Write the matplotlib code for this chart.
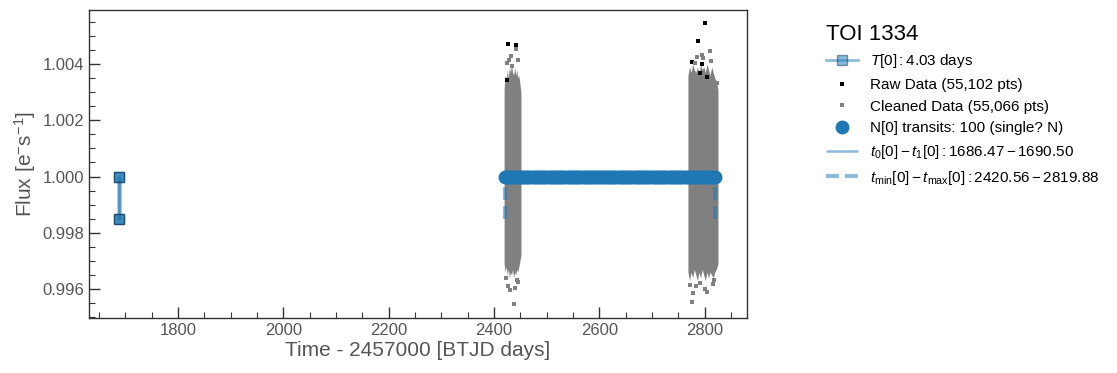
import numpy as np
import matplotlib.pyplot as plt
from matplotlib.ticker import MultipleLocator

plt.rcParams['font.family'] = ['Liberation Sans', 'DejaVu Sans']
plt.rcParams['mathtext.fontset'] = 'custom'
plt.rcParams['mathtext.rm'] = 'Liberation Sans'
plt.rcParams['mathtext.it'] = 'Liberation Sans:italic'
plt.rcParams['mathtext.bf'] = 'Liberation Sans:bold'

# --- data ---
# cleaned light curve: envelope of the dense band for each sector
s1_time = [2419.0, 2421.0, 2423.0, 2425.0, 2427.0, 2429.0, 2431.0, 2433.0, 2435.0,
           2437.0, 2439.0, 2441.0, 2443.0, 2445.0, 2447.0, 2449.0, 2451.0]
s1_upper = [1.0031, 1.0036, 1.0034, 1.0038, 1.0035, 1.0039, 1.0037, 1.0040, 1.0037,
            1.0036, 1.0039, 1.0036, 1.0038, 1.0035, 1.0036, 1.0033, 1.0030]
s1_lower = [0.9969, 0.9966, 0.9968, 0.9965, 0.9967, 0.9964, 0.9966, 0.9965, 0.9967,
            0.9964, 0.9966, 0.9965, 0.9967, 0.9966, 0.9968, 0.9970, 0.9972]

s2_time = [2768.0, 2771.0, 2774.0, 2777.0, 2780.0, 2783.0, 2786.0, 2789.0, 2792.0, 2795.0,
           2798.0, 2801.0, 2804.0, 2807.0, 2810.0, 2813.0, 2816.0, 2819.0, 2822.0, 2825.0]
s2_upper = [1.0036, 1.0039, 1.0037, 1.0040, 1.0038, 1.0037, 1.0039, 1.0036, 1.0040, 1.0038,
            1.0039, 1.0037, 1.0040, 1.0038, 1.0036, 1.0039, 1.0037, 1.0035, 1.0034, 1.0031]
s2_lower = [0.9966, 0.9963, 0.9966, 0.9964, 0.9967, 0.9965, 0.9963, 0.9966, 0.9964, 0.9967,
            0.9965, 0.9963, 0.9966, 0.9964, 0.9966, 0.9965, 0.9964, 0.9966, 0.9967, 0.9969]

# sparse cleaned points outside the dense band
clean_t = [2441.4, 2433.2, 2428.7, 2437.6, 2430.0, 2422.4, 2442.7, 2426.0, 2446.0, 2424.5,
           2439.0, 2444.5, 2431.5,
           2809.5, 2796.8, 2775.9, 2805.0, 2777.8, 2818.0, 2790.5, 2823.3, 2783.0, 2812.0,
           2771.0, 2800.5, 2786.0, 2815.5, 2794.0, 2780.5]
clean_f = [1.00453, 1.00394, 1.00414, 0.99547, 0.99596, 0.99638, 0.99632, 0.99612, 0.99625,
           1.00405, 0.99605, 1.00415, 1.00430,
           1.00446, 1.00420, 0.99555, 0.99590, 0.99585, 0.99632, 0.99620, 1.00331, 0.99610,
           1.00410, 0.99615, 0.99600, 1.00425, 0.99618, 1.00432, 1.00405]

# raw points removed by the cleaning
raw_t = [2426.8, 2440.8, 2423.7, 2787.3, 2800.0, 2774.8, 2794.9, 2790.5, 2805.0]
raw_f = [1.00471, 1.00468, 1.00343, 1.00482, 1.00546, 1.00408, 1.00399, 1.00367, 1.00355]

# predicted transit epochs (t_min ... t_max, 100 transits)
transit_times = [
    2420.56, 2424.59, 2428.63, 2432.66, 2436.69, 2440.73, 2444.76, 2448.79, 2452.83, 2456.86,
    2460.90, 2464.93, 2468.96, 2473.00, 2477.03, 2481.06, 2485.10, 2489.13, 2493.16, 2497.20,
    2501.23, 2505.26, 2509.30, 2513.33, 2517.36, 2521.40, 2525.43, 2529.46, 2533.50, 2537.53,
    2541.57, 2545.60, 2549.63, 2553.67, 2557.70, 2561.73, 2565.77, 2569.80, 2573.83, 2577.87,
    2581.90, 2585.93, 2589.97, 2594.00, 2598.03, 2602.07, 2606.10, 2610.13, 2614.17, 2618.20,
    2622.24, 2626.27, 2630.30, 2634.34, 2638.37, 2642.40, 2646.44, 2650.47, 2654.50, 2658.54,
    2662.57, 2666.60, 2670.64, 2674.67, 2678.70, 2682.74, 2686.77, 2690.80, 2694.84, 2698.87,
    2702.91, 2706.94, 2710.97, 2715.01, 2719.04, 2723.07, 2727.11, 2731.14, 2735.17, 2739.21,
    2743.24, 2747.27, 2751.31, 2755.34, 2759.37, 2763.41, 2767.44, 2771.47, 2775.51, 2779.54,
    2783.58, 2787.61, 2791.64, 2795.68, 2799.71, 2803.74, 2807.78, 2811.81, 2815.84, 2819.88,
]
transit_flux = [1.0] * len(transit_times)

single_t0, single_t1 = 1686.47, 1690.50
tmin, tmax = 2420.56, 2819.88
depth_levels = [1.0, 0.9985]

fig = plt.figure(figsize=(11.17, 3.73), dpi=100)
ax = fig.add_axes([0.0797, 0.1475, 0.589, 0.8255])

grey = '#808080'
ax.fill_between(s1_time, s1_lower, s1_upper, color=grey, lw=0, zorder=2)
ax.fill_between(s2_time, s2_lower, s2_upper, color=grey, lw=0, zorder=2)
ax.plot(raw_t, raw_f, 's', color='k', ms=2.4, mew=0, zorder=2, label='Raw Data (55,102 pts)')
ax.plot(clean_t, clean_f, 's', color=grey, ms=2.4, mew=0, zorder=3, label='Cleaned Data (55,066 pts)')

mid = 0.5 * (single_t0 + single_t1)
ax.plot([mid, mid], depth_levels, '-s', color='#1f77b4', alpha=0.5, lw=2,
        ms=6.5, mec='#0d3a5c', mew=1.0, zorder=5, label=r'$T[0]:$4.03 days')
ax.plot([mid, mid], depth_levels, 's', color='#1f77b4', ms=6.5, mec='#0d3a5c', mew=1.0,
        alpha=0.7, zorder=6)

ax.plot(transit_times, transit_flux, 'o', color='#1f77b4', ms=9, zorder=4,
        label='N[0] transits: 100 (single? N)')
ax.vlines([single_t0, single_t1], depth_levels[1], depth_levels[0], color='#1f77b4',
          alpha=0.5, lw=1.8, zorder=4, label=r'$t_0[0]-t_1[0]: 1686.47-1690.50$')
ax.vlines([tmin, tmax], depth_levels[1], depth_levels[0], color='#1f77b4', alpha=0.5,
          lw=3, linestyles=(0, (3.1, 1.45)), zorder=3,
          label=r'$t_{\rm min}[0]-t_{\rm max}[0]: 2420.56-2819.88$')

ax.set_xlim(1631, 2880)
ax.set_ylim(0.99497, 1.00592)
ax.xaxis.set_major_locator(MultipleLocator(200))
ax.xaxis.set_minor_locator(MultipleLocator(50))
ax.yaxis.set_major_locator(MultipleLocator(0.002))
ax.yaxis.set_minor_locator(MultipleLocator(0.0005))
ax.yaxis.set_major_formatter(plt.FormatStrFormatter('%.3f'))
ax.tick_params(which='both', direction='in', colors='#333333', labelcolor='#555555',
               labelsize=12, top=False, right=False)
ax.tick_params(which='major', length=8, width=1)
ax.tick_params(which='minor', length=4, width=0.8)
for sp in ax.spines.values():
    sp.set_color('#333333')
    sp.set_linewidth(1)

ax.set_xlabel('Time - 2457000 [BTJD days]', fontsize=15, color='#555555', labelpad=2)
ax.set_ylabel(r'Flux [e$^{-}$s$^{-1}$]', fontsize=15, color='#555555', labelpad=3)

handles, labels = ax.get_legend_handles_labels()
wanted = [r'$T[0]:$4.03 days', 'Raw Data (55,102 pts)', 'Cleaned Data (55,066 pts)',
          'N[0] transits: 100 (single? N)', r'$t_0[0]-t_1[0]: 1686.47-1690.50$',
          r'$t_{\rm min}[0]-t_{\rm max}[0]: 2420.56-2819.88$']
order = [labels.index(l) for l in wanted]
leg = ax.legend([handles[i] for i in order], [labels[i] for i in order],
                loc='upper left', bbox_to_anchor=(1.099, 1.0), frameon=False,
                fontsize=11, title='TOI 1334', title_fontsize=16,
                handlelength=2.1, handletextpad=0.8, labelspacing=0.5)
leg._legend_box.align = 'left'

fig.savefig('out.png', dpi=100)
